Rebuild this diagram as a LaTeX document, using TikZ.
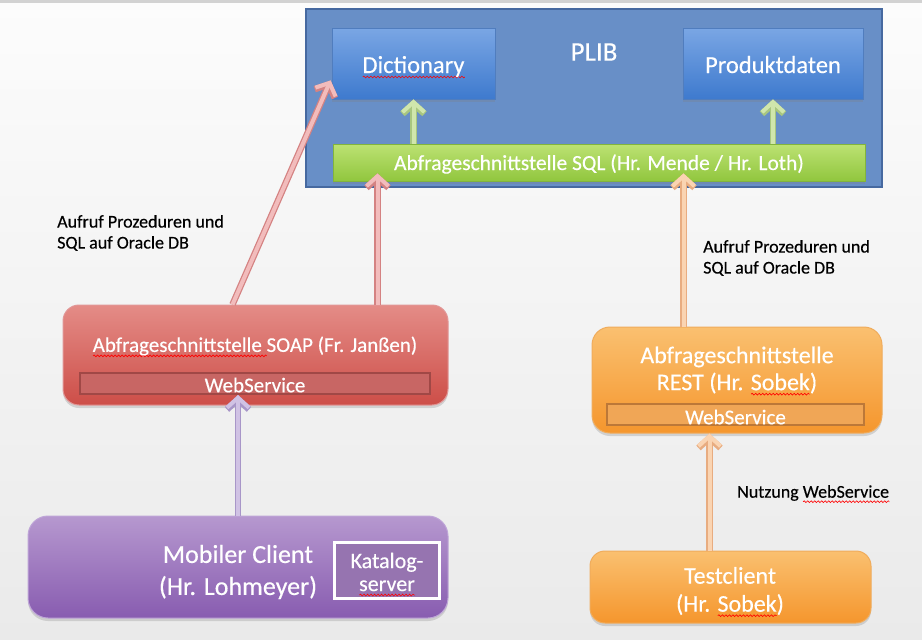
\documentclass[tikz,border=0pt]{standalone}
\usepackage{fontspec}
\setmainfont{Carlito}[FakeBold=0.35]
\usetikzlibrary{arrows.meta,shadows,calc,decorations.pathmorphing}
\newlength\rwlen
\newcommand\redwave[1]{\setbox0\hbox{#1}\setlength\rwlen{\wd0}\leavevmode\rlap{\smash{\tikz[baseline=0pt,x=1pt,y=1pt]\draw[red,line width=0.6pt,decorate,decoration={snake,amplitude=0.9pt,segment length=3.5pt}] (0pt,-4pt) -- (\rwlen,-4pt);}}\box0}
\definecolor{bgtop}{RGB}{252,252,252}
\definecolor{bgbot}{RGB}{234,234,234}
\definecolor{plibfill}{RGB}{104,143,199}
\definecolor{plibedge}{RGB}{70,105,160}
\definecolor{bluetop}{RGB}{122,166,228}
\definecolor{bluebot}{RGB}{62,122,206}
\definecolor{blueedge}{RGB}{80,125,190}
\definecolor{greentop}{RGB}{188,226,115}
\definecolor{greenbot}{RGB}{145,198,62}
\definecolor{greenedge}{RGB}{130,180,60}
\definecolor{redtop}{RGB}{228,140,135}
\definecolor{redbot}{RGB}{205,78,72}
\definecolor{rededge}{RGB}{225,150,150}
\definecolor{webred}{RGB}{200,102,100}
\definecolor{webrededge}{RGB}{160,72,70}
\definecolor{purtop}{RGB}{182,152,207}
\definecolor{purbot}{RGB}{136,92,176}
\definecolor{puredge}{RGB}{190,165,215}
\definecolor{katfill}{RGB}{150,116,176}
\definecolor{ortop}{RGB}{250,192,112}
\definecolor{orbot}{RGB}{245,150,45}
\definecolor{oredge}{RGB}{240,172,92}
\definecolor{weborange}{RGB}{240,166,86}
\definecolor{weboredge}{RGB}{188,120,56}
\definecolor{pinkfill}{RGB}{242,188,188}
\definecolor{pinkedge}{RGB}{212,130,130}
\definecolor{grfill}{RGB}{208,230,172}
\definecolor{gredge}{RGB}{168,198,128}
\definecolor{lavfill}{RGB}{208,194,228}
\definecolor{lavedge}{RGB}{168,150,200}
\definecolor{peachfill}{RGB}{250,212,178}
\definecolor{peachedge}{RGB}{232,172,128}
\begin{document}
\begin{tikzpicture}[x=1pt,y=-1pt,
  boxshadow/.style={drop shadow={opacity=0.28,shadow xshift=0pt,shadow yshift=-3pt}},
  plibbox/.style={draw=plibedge,line width=1.5pt,fill=plibfill,inner sep=0pt},
  bluebox/.style={draw=blueedge,line width=0.8pt,top color=bluetop,bottom color=bluebot,boxshadow,inner sep=0pt,text=white,text height=20pt,text depth=1pt,font=\fontsize{24.5}{28}\selectfont},
  greenbar/.style={draw=greenedge,line width=0.8pt,top color=greentop,bottom color=greenbot,boxshadow,inner sep=0pt,text=white,text height=18pt,text depth=3pt,font=\fontsize{21.5}{24}\selectfont},
  redbox/.style={draw=rededge,line width=1pt,top color=redtop,bottom color=redbot,rounded corners=16pt,boxshadow,inner sep=0pt},
  purbox/.style={draw=puredge,line width=1pt,top color=purtop,bottom color=purbot,rounded corners=20pt,boxshadow,inner sep=0pt},
  orbox/.style={draw=oredge,line width=1pt,top color=ortop,bottom color=orbot,rounded corners=18pt,boxshadow,inner sep=0pt},
  webbar/.style={line width=2pt,inner sep=0pt,text=white,font=\fontsize{21}{24}\selectfont},
  boxtext/.style={text=white,align=center,inner sep=0pt},
  lbl/.style={text=black,align=left,inner sep=0pt,anchor=west,font=\fontsize{18}{21}\selectfont},
  conn/.style 2 args={line width=4pt,draw=#1,-{Straight Barb[length=10pt,width=22pt]},
     preaction={draw=#2,line width=6.5pt,-{Straight Barb[length=10pt,width=22pt]}}}
]
\useasboundingbox (0,0) rectangle (922,640);
\fill[top color=bgtop,bottom color=bgbot] (0,0) rectangle (922,640);
\fill[gray!35] (0,0) rectangle (922,3);

% PLIB container
\node[plibbox,minimum width=576pt,minimum height=178pt] (plib) at (594,98) {};
\node[boxtext,font=\fontsize{27}{30}\selectfont] (pliblabel) at (594,52) {PLIB};
\node[bluebox,minimum width=163pt,minimum height=71pt] (dict) at (413.5,63.5) {\redwave{Dictionary}};
\node[bluebox,minimum width=180pt,minimum height=71pt] (prod) at (773,63.5) {Produktdaten};
\node[greenbar,minimum width=532pt,minimum height=37pt] (sql) at (599,162.5) {Abfrageschnittstelle SQL (Hr. Mende / Hr. Loth)};

% SOAP
\node[redbox,minimum width=385pt,minimum height=100pt] (soap) at (255.5,355) {};
\node[boxtext,font=\fontsize{21}{24}\selectfont] (soaptext) at (255,346) {\redwave{Abfrageschnittstelle }SOAP (Fr. Jan\ss en)};
\node[webbar,draw=webrededge,fill=webred,minimum width=350pt,minimum height=21pt] (web1) at (255,383.5) {};
\node[boxtext,font=\fontsize{21}{24}\selectfont] (web1text) at (255,385) {WebService};

% Mobile client
\node[purbox,minimum width=420pt,minimum height=102pt] (mobile) at (238,567) {};
\node[boxtext,font=\fontsize{26}{32}\selectfont] (mobiletext) at (238,572) {Mobiler Client\\(Hr. Lohmeyer)};
\node[draw=white,line width=3pt,fill=katfill,minimum width=105pt,minimum height=56pt,inner sep=0pt] (katalog) at (386.5,570) {};
\node[boxtext,font=\fontsize{22}{23}\selectfont] (katalogtext) at (387,572) {Katalog-\\\redwave{server}};

% REST
\node[orbox,minimum width=290pt,minimum height=106pt] (rest) at (737,380) {};
\node[boxtext,font=\fontsize{24}{27}\selectfont] (resttext) at (737,370) {Abfrageschnittstelle\\REST (Hr. \redwave{Sobek})};
\node[webbar,draw=weboredge,fill=weborange,minimum width=257pt,minimum height=21pt] (web2) at (735.5,414.5) {};
\node[boxtext,font=\fontsize{21}{24}\selectfont] (web2text) at (735.5,417) {WebService};

% Testclient
\node[orbox,rounded corners=15pt,minimum width=281pt,minimum height=72pt] (test) at (730.5,587) {};
\node[boxtext,font=\fontsize{24}{28}\selectfont] (testtext) at (730,591) {Testclient\\(Hr. \redwave{Sobek})};

% labels
\node[lbl] (lab1) at (57,233) {Aufruf Prozeduren und\\SQL auf Oracle DB};
\node[lbl] (lab2) at (703,258) {Aufruf Prozeduren und\\SQL auf Oracle DB};
\node[lbl] (lab3) at (737,493) {Nutzung \redwave{WebService}};

% connectors
\draw[conn={grfill}{gredge}] (sql.north -| dict.south) -- (dict.south);
\draw[conn={grfill}{gredge}] (sql.north -| prod.south) -- (prod.south);
\coordinate (soapup) at ($(soap.north west)+(315,0)$);
\coordinate (soapdiag) at ($(soap.north west)+(170,0)$);
\coordinate (dicttip) at ($(dict.south west)+(-1,-19)$);
\coordinate (restup) at ($(rest.north west)+(92,0)$);
\coordinate (testup) at ($(test.north west)+(120,0)$);
\draw[conn={pinkfill}{pinkedge}] (soapdiag) -- (dicttip);
\draw[conn={pinkfill}{pinkedge},shorten >=-8pt] (soapup) -- (soapup |- sql.south);
\draw[conn={peachfill}{peachedge},shorten >=-8pt] (restup) -- (restup |- sql.south);
\draw[conn={lavfill}{lavedge}] (mobile.north) -- (mobile.north |- web1.south);
\draw[conn={peachfill}{peachedge}] (testup) -- (testup |- rest.south);
\end{tikzpicture}
\end{document}
